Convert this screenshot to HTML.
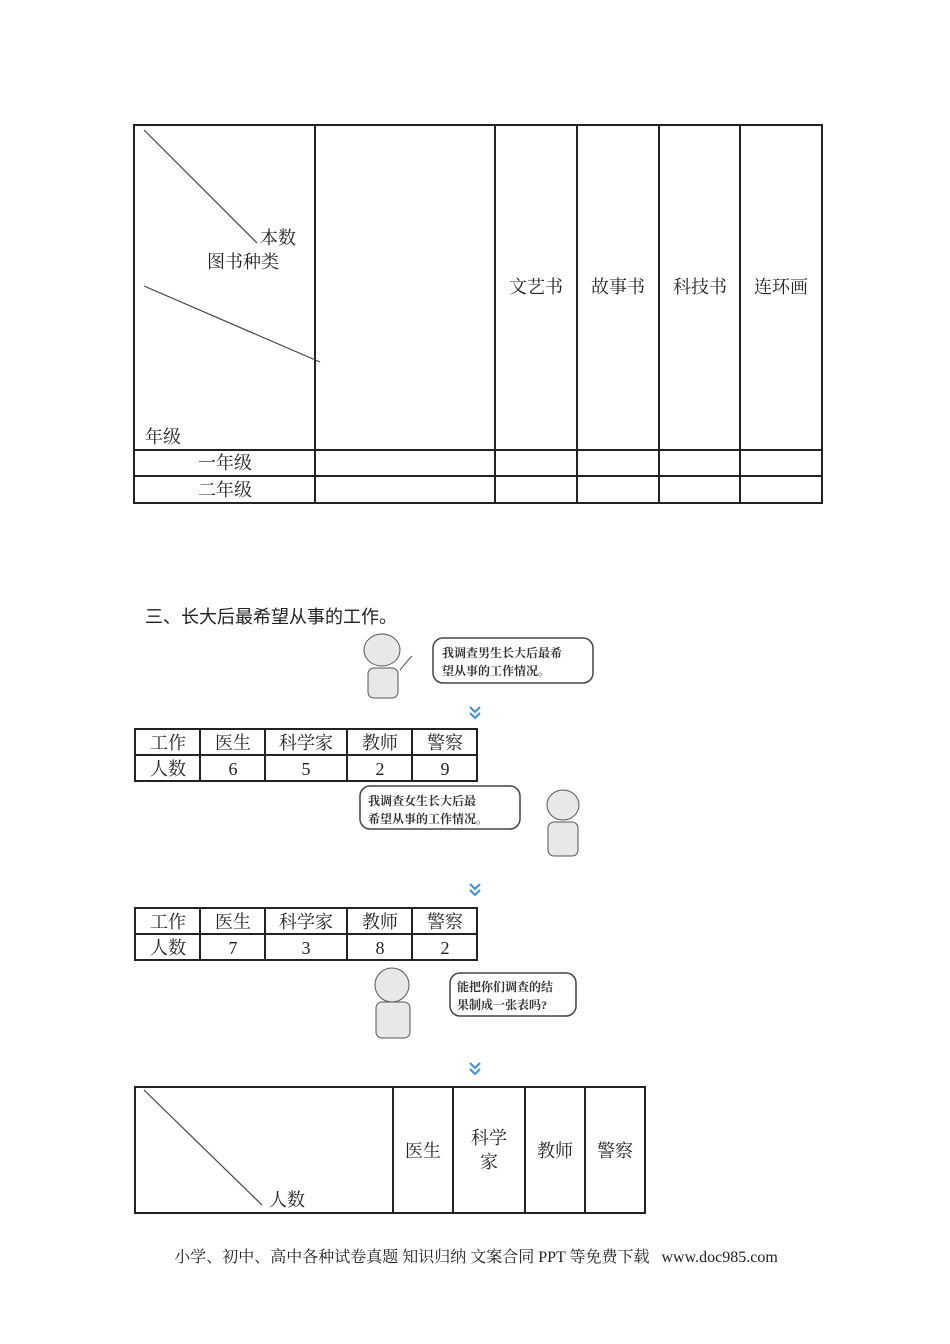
<!DOCTYPE html>
<html><head><meta charset="utf-8"><style>
html,body{margin:0;padding:0;background:#fff;}
svg{display:block;}
.s{font-family:"Liberation Serif","Noto Serif CJK SC",serif;fill:#222;}
.a{font-family:"Liberation Sans","Noto Sans CJK SC",sans-serif;fill:#222;}
.b{font-family:"Liberation Serif","Noto Serif CJK SC",serif;fill:#333;font-size:12px;font-weight:bold;}
</style></head><body>
<svg width="950" height="1344" viewBox="0 0 950 1344" xmlns="http://www.w3.org/2000/svg">
<g stroke="#222" stroke-width="2" fill="none">
<rect x="134" y="125" width="688" height="378"/>
<line x1="315" y1="125" x2="315" y2="503"/>
<line x1="495" y1="125" x2="495" y2="503"/>
<line x1="577" y1="125" x2="577" y2="503"/>
<line x1="659" y1="125" x2="659" y2="503"/>
<line x1="740" y1="125" x2="740" y2="503"/>
<line x1="134" y1="450" x2="822" y2="450"/>
<line x1="134" y1="476" x2="822" y2="476"/>
</g>
<g stroke="#444" stroke-width="1.2">
<line x1="144" y1="130" x2="257" y2="243"/>
<line x1="144" y1="286" x2="320" y2="362"/>
</g>
<g class="s" font-size="18">
<text x="260" y="244">本数</text>
<text x="207" y="268">图书种类</text>
<text x="145" y="443">年级</text>
<text x="536" y="293" text-anchor="middle">文艺书</text>
<text x="618" y="293" text-anchor="middle">故事书</text>
<text x="700" y="293" text-anchor="middle">科技书</text>
<text x="781" y="293" text-anchor="middle">连环画</text>
<text x="225" y="469" text-anchor="middle">一年级</text>
<text x="225" y="496" text-anchor="middle">二年级</text>
</g>
<text class="a" x="145" y="623" font-size="18">三、长大后最希望从事的工作。</text>

<!-- boy -->
<g fill="#e8e8e8" stroke="#555" stroke-width="1">
<ellipse cx="382" cy="650" rx="18" ry="16"/>
<rect x="368" y="668" width="30" height="30" rx="6"/>
</g>
<path d="M400 670 q8 -10 12 -14" stroke="#555" fill="none"/>
<rect x="433" y="638" width="160" height="45" rx="10" fill="#fff" stroke="#444" stroke-width="1.5"/>
<text class="b" x="442" y="657">我调查男生长大后最希</text>
<text class="b" x="442" y="675">望从事的工作情况。</text>
<path d="M470 707 l5 5 l5 -5 M470 713 l5 5 l5 -5" stroke="#3a8fd6" stroke-width="2" fill="none"/>

<g stroke="#222" stroke-width="2" fill="none">
<rect x="135" y="729" width="342" height="52"/>
<line x1="200" y1="729" x2="200" y2="781"/><line x1="265" y1="729" x2="265" y2="781"/>
<line x1="347" y1="729" x2="347" y2="781"/><line x1="412" y1="729" x2="412" y2="781"/>
<line x1="135" y1="755" x2="477" y2="755"/>
</g>
<g class="s" font-size="18" text-anchor="middle">
<text x="168" y="749">工作</text><text x="233" y="749">医生</text><text x="306" y="749">科学家</text><text x="380" y="749">教师</text><text x="445" y="749">警察</text>
<text x="168" y="775">人数</text><text x="233" y="775">6</text><text x="306" y="775">5</text><text x="380" y="775">2</text><text x="445" y="775">9</text>
</g>

<!-- girl -->
<rect x="360" y="786" width="160" height="43" rx="10" fill="#fff" stroke="#444" stroke-width="1.5"/>
<text class="b" x="368" y="805">我调查女生长大后最</text>
<text class="b" x="368" y="823">希望从事的工作情况。</text>
<g fill="#e8e8e8" stroke="#555" stroke-width="1">
<ellipse cx="563" cy="805" rx="16" ry="15"/>
<rect x="548" y="822" width="30" height="34" rx="6"/>
</g>
<path d="M470 884 l5 5 l5 -5 M470 890 l5 5 l5 -5" stroke="#3a8fd6" stroke-width="2" fill="none"/>

<g stroke="#222" stroke-width="2" fill="none">
<rect x="135" y="908" width="342" height="52"/>
<line x1="200" y1="908" x2="200" y2="960"/><line x1="265" y1="908" x2="265" y2="960"/>
<line x1="347" y1="908" x2="347" y2="960"/><line x1="412" y1="908" x2="412" y2="960"/>
<line x1="135" y1="934" x2="477" y2="934"/>
</g>
<g class="s" font-size="18" text-anchor="middle">
<text x="168" y="928">工作</text><text x="233" y="928">医生</text><text x="306" y="928">科学家</text><text x="380" y="928">教师</text><text x="445" y="928">警察</text>
<text x="168" y="954">人数</text><text x="233" y="954">7</text><text x="306" y="954">3</text><text x="380" y="954">8</text><text x="445" y="954">2</text>
</g>

<!-- teacher -->
<g fill="#e8e8e8" stroke="#555" stroke-width="1">
<ellipse cx="392" cy="985" rx="17" ry="17"/>
<rect x="376" y="1002" width="34" height="36" rx="6"/>
</g>
<rect x="450" y="973" width="126" height="43" rx="10" fill="#fff" stroke="#444" stroke-width="1.5"/>
<text class="b" x="457" y="991">能把你们调查的结</text>
<text class="b" x="457" y="1009">果制成一张表吗?</text>
<path d="M470 1063 l5 5 l5 -5 M470 1069 l5 5 l5 -5" stroke="#3a8fd6" stroke-width="2" fill="none"/>

<g stroke="#222" stroke-width="2" fill="none">
<rect x="135" y="1087" width="510" height="126"/>
<line x1="393" y1="1087" x2="393" y2="1213"/><line x1="453" y1="1087" x2="453" y2="1213"/>
<line x1="525" y1="1087" x2="525" y2="1213"/><line x1="585" y1="1087" x2="585" y2="1213"/>
</g>
<line x1="144" y1="1090" x2="262" y2="1205" stroke="#444" stroke-width="1.2"/>
<g class="s" font-size="18" text-anchor="middle">
<text x="287" y="1206">人数</text>
<text x="423" y="1157">医生</text>
<text x="489" y="1144">科学</text><text x="489" y="1168">家</text>
<text x="555" y="1157">教师</text>
<text x="615" y="1157">警察</text>
</g>
<text class="s" x="476" y="1262" font-size="16" text-anchor="middle">小学、初中、高中各种试卷真题 知识归纳 文案合同 PPT 等免费下载 &#160; www.doc985.com</text>
</svg>
</body></html>
